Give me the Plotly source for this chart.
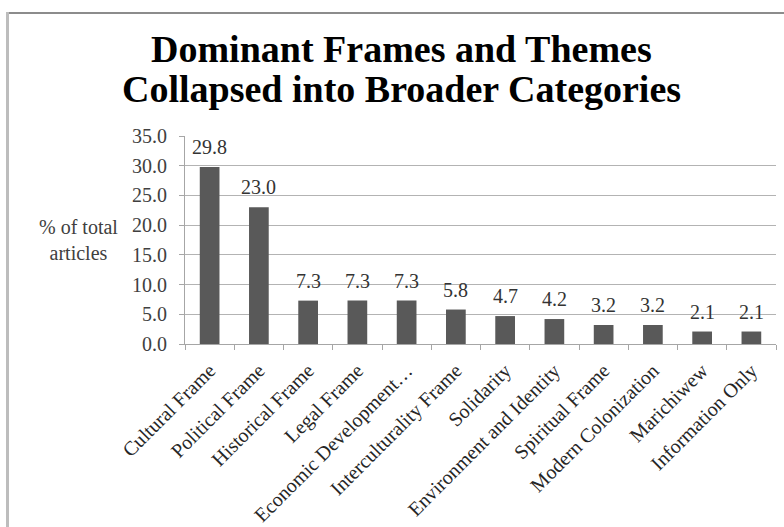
import plotly.graph_objects as go

# Share of articles per dominant frame / theme
categories = [
    "Cultural Frame", "Political Frame", "Historical Frame", "Legal Frame",
    "Economic Development…", "Interculturality Frame", "Solidarity",
    "Environment and Identity", "Spiritual Frame", "Modern Colonization",
    "Marichiwew", "Information Only",
]
values = [29.8, 23.0, 7.3, 7.3, 7.3, 5.8, 4.7, 4.2, 3.2, 3.2, 2.1, 2.1]
y_ticks = [0, 5, 10, 15, 20, 25, 30, 35]
y_tick_labels = ["0.0", "5.0", "10.0", "15.0", "20.0", "25.0", "30.0", "35.0"]
title_lines = ["Dominant Frames and Themes", "Collapsed into Broader Categories"]
y_title = "% of total<br>articles"

W, H = 784, 527
L, R, T, B = 185, 8, 136, 183
plot_w = W - L - R
plot_h = H - T - B


def px_to_paper_x(px):
    return (px - L) / plot_w


def px_to_paper_y(py):
    return (H - B - py) / plot_h


serif = "Liberation Serif, Times New Roman, serif"

fig = go.Figure(
    go.Bar(
        x=categories,
        y=values,
        marker=dict(color="#595959", line=dict(width=0)),
        width=0.4,
        hoverinfo="x+y",
    )
)

annotations = []
# value labels above each bar
for c, v in zip(categories, values):
    annotations.append(dict(
        x=c, y=v, xref="x", yref="y", text=f"{v:.1f}", showarrow=False,
        yanchor="bottom", yshift=7,
        font=dict(family=serif, size=20, color="#333333"),
    ))

# two-line title
for i, line in enumerate(title_lines):
    annotations.append(dict(
        x=px_to_paper_x(401), y=px_to_paper_y(63 + 40 * i),
        xref="paper", yref="paper", text=f"<b>{line}</b>", showarrow=False,
        xanchor="center", yanchor="bottom", yshift=-9,
        font=dict(family=serif, size=38, color="#000000"),
    ))

# horizontal y-axis title
annotations.append(dict(
    x=px_to_paper_x(78), y=px_to_paper_y(240), xref="paper", yref="paper",
    text=y_title, showarrow=False, xanchor="center", yanchor="middle",
    align="center", font=dict(family=serif, size=20, color="#404040"),
))

# chart-area frame (top and left edges)
shapes = [
    dict(type="line", xref="paper", yref="paper",
         x0=px_to_paper_x(6), x1=px_to_paper_x(800),
         y0=px_to_paper_y(13), y1=px_to_paper_y(13),
         line=dict(color="#8c8c8c", width=2)),
    dict(type="line", xref="paper", yref="paper",
         x0=px_to_paper_x(7.5), x1=px_to_paper_x(7.5),
         y0=px_to_paper_y(12), y1=px_to_paper_y(540),
         line=dict(color="#bdbdbd", width=3)),
]

fig.update_layout(
    width=W, height=H,
    margin=dict(l=L, r=R, t=T, b=B, pad=0, autoexpand=False),
    paper_bgcolor="white", plot_bgcolor="white",
    showlegend=False,
    annotations=annotations,
    shapes=shapes,
    bargap=0.6,
)

fig.update_xaxes(
    type="category",
    automargin=False,
    tickangle=-45,
    tickfont=dict(family=serif, size=20, color="#262626"),
    showline=True, linecolor="#a6a6a6", linewidth=1,
    ticks="outside", ticklen=5, tickcolor="#a6a6a6",
    tickson="boundaries",
    showgrid=False,
    ticklabelstandoff=6,
)

fig.update_yaxes(
    range=[0, 35],
    automargin=False,
    tickvals=y_ticks, ticktext=y_tick_labels,
    tickfont=dict(family=serif, size=20, color="#404040"),
    showline=True, linecolor="#a6a6a6", linewidth=1,
    ticks="outside", ticklen=5, tickcolor="#a6a6a6",
    showgrid=True, gridcolor="#b3b3b3", gridwidth=1,
    zeroline=False,
    ticklabelstandoff=8,
)

fig.write_html("out.html")
